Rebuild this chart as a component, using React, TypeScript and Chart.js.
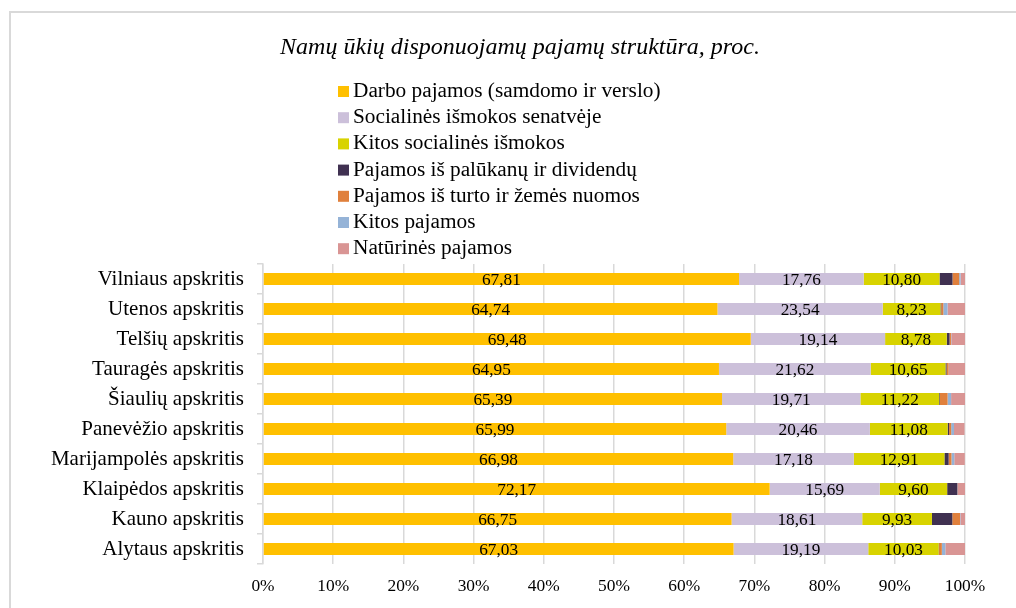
import React, { useEffect, useRef } from "react";
import { Chart, registerables } from "chart.js";

Chart.register(...registerables);

const TITLE = "Namų ūkių disponuojamų pajamų struktūra, proc.";

const categories = [
  "Vilniaus apskritis",
  "Utenos apskritis",
  "Telšių apskritis",
  "Tauragės apskritis",
  "Šiaulių apskritis",
  "Panevėžio apskritis",
  "Marijampolės apskritis",
  "Klaipėdos apskritis",
  "Kauno apskritis",
  "Alytaus apskritis",
];

const seriesNames = [
  "Darbo pajamos (samdomo ir verslo)",
  "Socialinės išmokos senatvėje",
  "Kitos socialinės išmokos",
  "Pajamos iš palūkanų ir dividendų",
  "Pajamos iš turto ir žemės nuomos",
  "Kitos pajamos",
  "Natūrinės pajamos",
];

const darbo = [67.81, 64.74, 69.48, 64.95, 65.39, 65.99, 66.98, 72.17, 66.75, 67.03];
const senatve = [17.76, 23.54, 19.14, 21.62, 19.71, 20.46, 17.18, 15.69, 18.61, 19.19];
const kitosSoc = [10.8, 8.23, 8.78, 10.65, 11.22, 11.08, 12.91, 9.6, 9.93, 10.03];
const palukanos = [1.85, 0.1, 0.4, 0.15, 0.1, 0.2, 0.6, 1.45, 2.9, 0.05];
const nuoma = [0.95, 0.3, 0.2, 0.3, 1.1, 0.3, 0.4, 0.02, 1.1, 0.4];
const kitos = [0.2, 0.6, 0.05, 0.05, 0.5, 0.4, 0.4, 0.02, 0.05, 0.5];
const naturines = [0.63, 2.49, 1.95, 2.28, 1.98, 1.5, 1.5, 1.05, 0.66, 2.8];

const colors = ["#FFC000", "#CCC0DA", "#D8D300", "#403151", "#E0803C", "#95B3D7", "#D99594"];

const xTicks = [0, 10, 20, 30, 40, 50, 60, 70, 80, 90, 100];

const SERIF = "'Liberation Serif', 'Times New Roman', serif";

const overlayPlugin = {
  id: "overlay",
  beforeDraw(chart: any) {
    const ctx = chart.ctx;
    ctx.save();
    ctx.fillStyle = "#ffffff";
    ctx.fillRect(0, 0, chart.width, chart.height);
    ctx.strokeStyle = "#d9d9d9";
    ctx.lineWidth = 2;
    ctx.beginPath();
    ctx.moveTo(10, chart.height);
    ctx.lineTo(10, 12);
    ctx.lineTo(chart.width, 12);
    ctx.stroke();
    ctx.restore();
  },
  afterDatasetsDraw(chart: any) {
    const ctx = chart.ctx;
    ctx.save();
    ctx.font = `17.3px ${SERIF}`;
    ctx.fillStyle = "#000000";
    ctx.textAlign = "center";
    ctx.textBaseline = "middle";
    for (let d = 0; d < 3; d++) {
      const meta = chart.getDatasetMeta(d);
      const data = chart.data.datasets[d].data as number[];
      meta.data.forEach((el: any, i: number) => {
        const cx = (el.x + el.base) / 2;
        const txt = data[i].toFixed(2).replace(".", ",");
        ctx.fillText(txt, cx, el.y + 1);
      });
    }
    ctx.restore();
  },
  afterDraw(chart: any) {
    const ctx = chart.ctx;
    ctx.save();
    ctx.fillStyle = "#000000";
    ctx.font = `italic 24px ${SERIF}`;
    ctx.textAlign = "center";
    ctx.textBaseline = "alphabetic";
    ctx.fillText(TITLE, 520, 54);
    ctx.font = `21.3px ${SERIF}`;
    ctx.textAlign = "left";
    chart.data.datasets.forEach((ds: any, i: number) => {
      const base = 97 + i * 26.2;
      ctx.fillStyle = ds.backgroundColor;
      ctx.fillRect(338, base - 11, 11, 11);
      ctx.fillStyle = "#000000";
      ctx.fillText(ds.label, 353, base);
    });
    ctx.restore();
  },
};

export default function App() {
  const ref = useRef<HTMLCanvasElement | null>(null);
  useEffect(() => {
    if (!ref.current) return;
    const all = [darbo, senatve, kitosSoc, palukanos, nuoma, kitos, naturines];
    const chart = new Chart(ref.current, {
      type: "bar",
      data: {
        labels: categories,
        datasets: all.map((arr, i) => ({
          label: seriesNames[i],
          data: arr,
          backgroundColor: colors[i],
          borderWidth: 0,
          barPercentage: 0.4,
          categoryPercentage: 1,
        })),
      },
      options: {
        indexAxis: "y",
        animation: false,
        responsive: false,
        maintainAspectRatio: false,
        layout: { padding: { left: 0, right: 51, top: 264, bottom: 0 } },
        plugins: {
          legend: { display: false },
          title: { display: false },
          tooltip: { enabled: false },
        },
        scales: {
          x: {
            stacked: true,
            min: 0,
            max: 100,
            afterBuildTicks: (scale: any) => {
              scale.ticks = xTicks.map((v) => ({ value: v }));
            },
            afterFit: (scale: any) => {
              scale.height = 44;
            },
            ticks: {
              callback: (v: any) => `${v}%`,
              font: { family: SERIF, size: 17.4 },
              color: "#000000",
              padding: 12,
              maxRotation: 0,
              autoSkip: false,
            },
            grid: {
              color: "#d9d9d9",
              lineWidth: 1.5,
              drawTicks: false,
            },
            border: { display: false },
          },
          y: {
            stacked: true,
            afterFit: (scale: any) => {
              scale.width = 263;
            },
            ticks: {
              font: { family: SERIF, size: 21 },
              color: "#000000",
              padding: 13,
              autoSkip: false,
            },
            grid: {
              offset: true,
              drawOnChartArea: false,
              drawTicks: true,
              tickLength: 6,
              color: "#d9d9d9",
              lineWidth: 1.5,
            },
            border: { display: true, color: "#d9d9d9", width: 1.5 },
          },
        },
      },
      plugins: [overlayPlugin],
    });
    return () => chart.destroy();
  }, []);
  return (
    <div style={{ position: "fixed", left: 0, top: 0, width: 1016, height: 608, background: "#fff" }}>
      <canvas ref={ref} width={1016} height={608} style={{ width: 1016, height: 608, display: "block" }} />
    </div>
  );
}
